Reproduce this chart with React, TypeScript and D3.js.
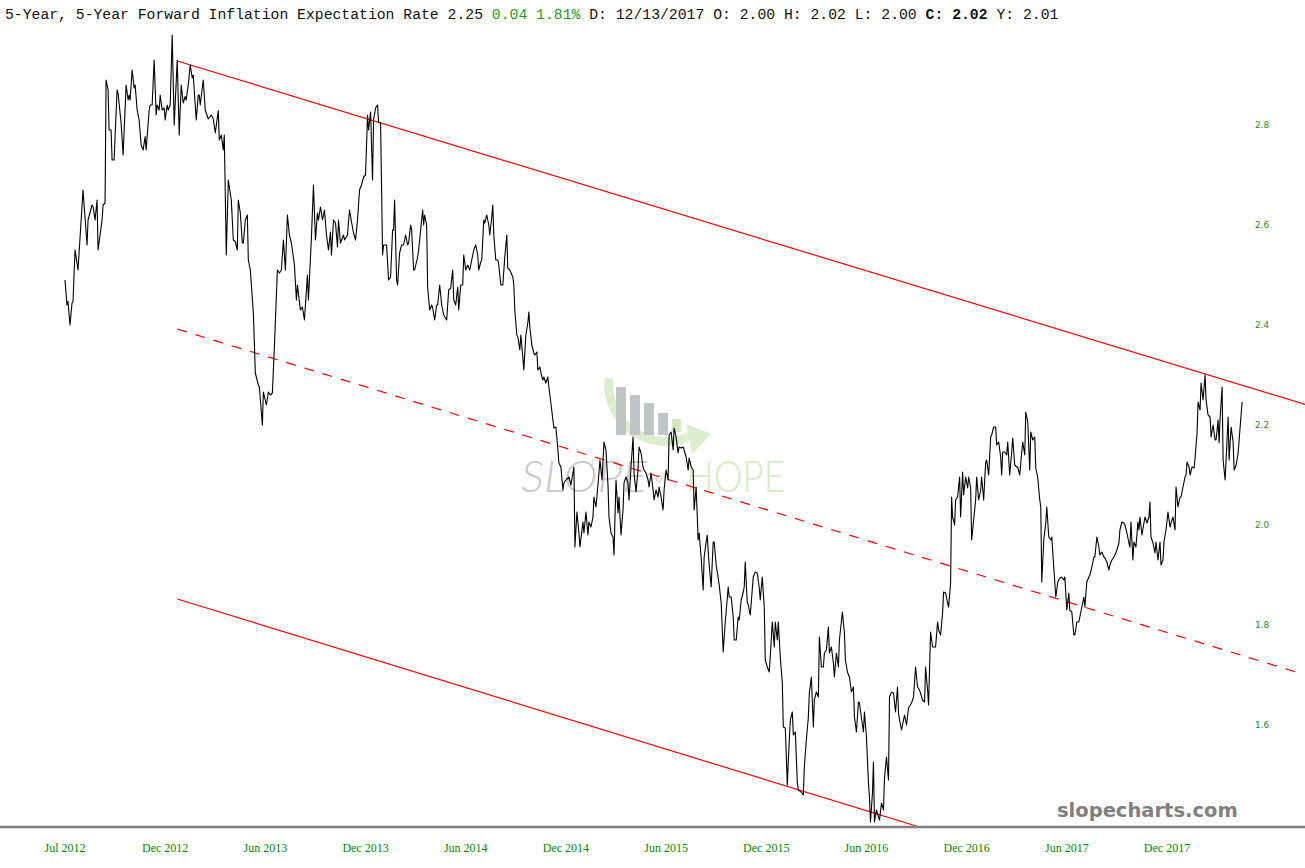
import React from "react";
import * as d3 from "d3";

// ---- Data ----
const xTickLabels = ["Jul 2012", "Dec 2012", "Jun 2013", "Dec 2013", "Jun 2014", "Dec 2014", "Jun 2015", "Dec 2015", "Jun 2016", "Dec 2016", "Jun 2017", "Dec 2017"];
const yTicks = [1.6, 1.8, 2.0, 2.2, 2.4, 2.6, 2.8];

// period position (1 unit = one label interval, 0 = Jul 2012)
const periods = [
  0.00,0.02,0.03,0.05,0.07,0.08,0.10,0.13,0.18,0.22,0.23,0.27,0.28,0.30,0.32,0.33,0.37,0.38,0.40,0.41,
  0.43,0.44,0.46,0.47,0.49,0.52,0.53,0.56,0.58,0.61,0.63,0.64,0.65,0.67,0.69,0.70,0.72,0.74,0.76,0.78,
  0.80,0.81,0.84,0.85,0.87,0.89,0.91,0.92,0.94,0.95,0.97,0.99,1.00,1.02,1.03,1.05,1.07,1.09,1.12,1.14,
  1.16,1.18,1.20,1.21,1.23,1.25,1.27,1.28,1.31,1.33,1.34,1.35,
  1.38,1.40,1.43,1.46,1.48,1.50,1.53,1.54,1.56,1.58,1.59,1.61,1.63,1.66,1.68,1.70,1.72,1.73,1.75,1.77,
  1.78,1.80,1.82,1.83,1.85,1.88,1.90,1.93,1.94,1.97,1.98,2.01,2.03,2.05,2.07,2.09,2.12,2.14,2.16,2.18,
  2.20,2.22,2.24,2.26,2.29,2.31,2.32,2.35,2.37,2.39,2.42,2.43,2.46,2.48,2.50,2.52,2.53,2.55,2.57,2.59,
  2.61,2.63,2.65,2.66,2.68,2.70,2.72,2.73,2.75,2.78,2.79,2.82,2.84,2.86,2.88,2.90,2.92,2.94,2.96,2.98,
  3.00,3.02,3.03,3.05,3.07,3.08,3.10,3.12,3.13,3.15,
  3.17,3.18,3.21,3.23,3.25,3.27,3.28,3.29,3.31,3.32,3.34,3.36,3.38,3.40,3.42,3.43,3.45,3.46,3.48,3.49,
  3.52,3.53,3.55,3.57,3.58,3.59,3.61,3.62,3.64,3.66,3.67,3.69,3.71,3.72,3.74,3.76,3.78,3.81,3.83,3.85,
  3.87,3.88,3.90,3.92,3.93,3.95,3.97,3.98,4.00,4.02,4.04,4.05,4.07,4.08,4.10,4.12,4.13,4.15,4.16,4.18,
  4.19,4.21,4.23,4.24,4.26,4.27,4.28,4.30,4.32,4.33,4.35,4.37,4.39,4.41,4.42,4.44,4.47,4.48,4.49,4.51,
  4.52,4.54,4.55,4.57,4.58,4.60,4.62,4.63,4.64,4.66,4.68,4.69,4.71,4.72,4.74,
  4.76,4.77,4.78,4.80,4.82,4.83,4.85,4.87,4.88,4.90,4.92,4.93,4.95,4.97,4.98,5.00,5.03,5.05,5.08,5.09,
  5.11,5.13,5.14,5.17,5.18,5.20,5.22,5.23,5.25,5.27,5.28,5.30,5.32,5.34,5.36,5.38,5.40,5.42,5.43,5.45,
  5.47,5.48,5.50,5.52,5.53,5.55,5.57,5.58,5.60,5.62,5.63,5.65,5.67,5.68,5.70,5.72,5.73,5.75,5.77,5.78,
  5.80,5.82,5.83,5.85,5.87,5.88,5.90,5.92,5.93,5.95,5.97,5.98,6.00,6.02,6.03,6.05,6.07,6.08,6.10,6.12,
  6.13,6.15,6.17,6.18,6.20,6.22,6.23,6.25,6.27,6.28,6.30,6.32,6.33,6.35,6.37,6.38,6.41,6.43,6.45,6.47,
  6.48,6.50,6.52,6.53,6.55,6.57,6.59,6.62,6.63,6.65,6.67,6.68,6.70,6.72,6.73,6.75,6.77,6.78,6.79,6.81,
  6.82,6.84,6.86,6.87,6.89,6.91,6.93,6.94,6.96,6.98,6.99,7.01,7.03,7.05,7.06,7.08,7.09,7.11,7.12,7.14,
  7.16,7.17,7.19,7.21,7.22,7.24,7.26,7.27,7.29,7.31,7.32,7.35,7.37,7.38,7.40,7.42,7.43,7.45,7.47,7.48,
  7.50,7.52,7.53,7.55,7.57,7.58,7.60,7.62,7.63,7.65,7.67,7.68,7.70,7.72,7.73,7.76,7.78,7.79,7.81,7.83,
  7.85,7.87,7.88,7.90,7.92,7.93,7.95,7.97,7.98,8.00,8.02,8.03,8.04,8.06,8.07,8.08,8.10,8.12,8.13,8.15,
  8.17,8.18,8.20,8.22,8.23,8.25,8.27,8.29,8.31,8.32,8.33,8.35,
  8.38,8.40,8.42,8.45,8.47,8.49,8.51,8.53,8.56,8.58,8.59,8.61,8.62,8.64,8.66,8.69,8.71,8.72,8.74,8.76,
  8.77,8.79,8.81,8.82,8.84,8.85,8.86,8.88,8.89,8.91,8.93,8.94,8.96,8.97,8.99,9.01,9.02,9.04,9.05,9.07,
  9.09,9.10,9.12,9.14,9.15,9.17,9.19,9.20,9.22,9.24,9.25,9.27,9.29,9.30,9.32,9.34,9.35,9.36,9.38,9.40,
  9.41,9.43,9.45,9.46,9.48,9.50,9.51,9.53,9.55,9.56,9.58,9.59,9.61,9.63,9.64,9.66,9.68,9.69,9.71,9.73,
  9.74,9.75,9.77,9.79,9.80,9.82,9.84,9.85,9.87,9.89,9.91,9.93,9.95,9.97,9.98,10.00,10.02,10.03,10.05,10.07,
  10.08,10.10,10.12,10.13,10.15,10.17,10.18,10.20,10.22,10.23,10.25,10.27,10.28,10.30,10.32,10.33,10.35,10.37,10.38,10.40,
  10.42,10.43,10.45,10.47,10.48,10.50,10.52,10.53,10.55,10.57,10.58,10.60,10.62,10.63,10.64,10.66,10.67,10.69,10.71,10.72,
  10.73,10.75,10.77,10.78,10.80,10.82,10.83,10.84,10.86,10.88,10.89,10.91,10.93,10.94,10.96,10.97,10.99,11.01,11.03,11.04,
  11.06,11.08,11.09,11.11,11.13,11.14,11.16,11.18,11.19,11.20,11.22,11.23,11.25,11.27,11.28,11.30,11.31,11.33,11.34,11.36,
  11.38,11.39,11.41,11.43,11.44,11.46,11.48,11.49,11.51,11.52,11.53,11.55,11.56,11.58,11.59,11.61,11.62,11.64,11.66,11.67,
  11.69,11.71,11.73,11.75
];

const rates = [
  2.490,2.440,2.447,2.400,2.444,2.447,2.550,2.510,2.670,2.560,2.610,2.640,2.637,2.610,2.650,2.550,2.610,2.640,2.644,2.890,
  2.870,2.790,2.790,2.730,2.730,2.870,2.863,2.804,2.740,2.880,2.850,2.860,2.850,2.910,2.874,2.880,2.830,2.810,2.760,2.750,
  2.777,2.750,2.830,2.840,2.840,2.930,2.820,2.840,2.830,2.860,2.830,2.834,2.810,2.840,2.830,2.840,2.980,2.800,2.930,2.780,
  2.880,2.844,2.857,2.850,2.880,2.920,2.894,2.900,2.810,2.860,2.860,2.840,
  2.890,2.830,2.812,2.820,2.812,2.784,2.829,2.770,2.780,2.750,2.780,2.540,2.690,2.650,2.570,2.567,2.550,2.650,2.624,2.564,
  2.564,2.610,2.620,2.530,2.510,2.424,2.304,2.280,2.276,2.200,2.266,2.240,2.266,2.260,2.264,2.356,2.510,2.504,2.510,2.570,
  2.510,2.620,2.580,2.564,2.520,2.450,2.480,2.430,2.436,2.410,2.500,2.450,2.576,2.680,2.570,2.624,2.610,2.636,2.610,2.630,
  2.580,2.550,2.586,2.540,2.610,2.604,2.556,2.610,2.564,2.580,2.570,2.580,2.630,2.606,2.584,2.570,2.610,2.670,2.680,2.696,
  2.700,2.820,2.790,2.826,2.690,2.810,2.834,2.840,2.806,2.804,
  2.540,2.560,2.560,2.490,2.496,2.590,2.590,2.650,2.490,2.480,2.544,2.560,2.560,2.580,2.560,2.564,2.600,2.590,2.510,2.510,
  2.536,2.550,2.590,2.630,2.600,2.620,2.600,2.476,2.430,2.440,2.434,2.410,2.440,2.440,2.480,2.440,2.420,2.410,2.470,2.474,
  2.510,2.450,2.440,2.476,2.430,2.480,2.480,2.540,2.510,2.520,2.510,2.520,2.540,2.550,2.560,2.540,2.510,2.526,2.530,2.610,
  2.604,2.620,2.600,2.580,2.616,2.640,2.580,2.530,2.530,2.520,2.480,2.480,2.536,2.580,2.514,2.510,2.496,2.480,2.430,2.380,
  2.376,2.350,2.380,2.336,2.310,2.380,2.404,2.426,2.396,2.360,2.344,2.340,2.346,2.310,2.316,
  2.296,2.290,2.296,2.284,2.296,2.276,2.244,2.210,2.194,2.196,2.150,2.124,2.116,2.070,2.084,2.090,2.096,2.080,2.116,1.956,
  2.026,1.984,1.956,2.006,1.984,2.026,1.980,2.006,1.996,2.016,2.056,2.036,2.080,2.130,2.090,2.166,2.150,2.080,2.016,1.984,
  1.976,1.940,2.090,2.024,2.056,1.980,2.030,2.084,2.096,2.084,2.050,2.116,2.176,2.104,2.066,2.110,2.156,2.144,2.116,2.110,
  2.104,2.090,2.076,2.104,2.070,2.050,2.070,2.056,2.076,2.056,2.030,2.070,2.110,2.090,2.180,2.186,2.150,2.194,2.176,2.144,
  2.156,2.154,2.156,2.150,2.136,2.110,2.134,2.116,2.110,2.030,2.076,1.970,1.984,1.936,1.870,1.936,1.980,1.920,1.876,1.966,
  1.966,1.920,1.894,1.880,1.844,1.746,1.804,1.876,1.856,1.856,1.816,1.770,1.770,1.816,1.810,1.850,1.866,1.876,1.926,1.846,
  1.840,1.820,1.870,1.896,1.906,1.904,1.874,1.850,1.896,1.836,1.730,1.716,1.706,1.770,1.806,1.756,1.806,1.770,1.806,1.736,
  1.684,1.596,1.594,1.480,1.530,1.610,1.626,1.580,1.586,1.484,1.470,1.466,1.460,1.516,1.570,1.616,1.664,1.696,1.596,1.650,
  1.666,1.656,1.776,1.716,1.716,1.744,1.750,1.796,1.744,1.756,1.724,1.696,1.744,1.716,1.770,1.826,1.784,1.730,1.706,1.696,
  1.666,1.676,1.616,1.586,1.646,1.644,1.614,1.586,1.626,1.576,1.484,1.456,1.406,1.464,1.526,1.406,1.430,1.416,1.410,1.444,
  1.430,1.494,1.536,1.490,1.656,1.666,1.664,1.626,1.676,1.624,1.610,1.590,
  1.620,1.600,1.634,1.644,1.656,1.716,1.676,1.670,1.650,1.646,1.716,1.670,1.640,1.786,1.756,1.756,1.806,1.790,1.780,1.824,
  1.866,1.864,1.844,1.836,1.884,2.056,2.016,2.000,2.050,2.056,2.096,2.016,2.106,2.060,2.096,2.074,2.096,2.074,1.970,2.010,
  2.050,2.096,2.050,2.070,2.096,2.050,2.126,2.130,2.100,2.176,2.180,2.196,2.196,2.160,2.166,2.136,2.100,2.146,2.146,2.140,
  2.166,2.100,2.146,2.174,2.120,2.116,2.116,2.100,2.146,2.166,2.140,2.226,2.206,2.110,2.186,2.170,2.176,2.114,2.094,2.050,
  2.036,1.886,1.970,2.004,2.036,1.976,1.970,1.976,1.914,1.856,1.886,1.894,1.896,1.890,1.896,1.830,1.864,1.830,1.826,1.780,
  1.780,1.806,1.806,1.816,1.836,1.856,1.836,1.886,1.896,1.900,1.916,1.936,1.936,1.976,1.956,1.940,1.946,1.936,1.934,1.926,
  1.910,1.920,1.930,1.936,1.940,1.950,1.964,1.990,2.006,2.004,2.000,1.984,1.964,1.956,2.006,1.930,1.966,1.956,2.006,1.990,
  2.016,1.980,2.004,2.016,2.004,2.016,2.046,1.976,1.964,1.944,1.966,1.930,1.966,1.920,1.930,1.966,1.990,2.026,1.996,2.004,
  2.016,1.990,2.076,2.036,2.056,2.056,2.076,2.096,2.100,2.126,2.116,2.100,2.116,2.114,2.134,2.184,2.246,2.230,2.284,2.250,
  2.300,2.250,2.220,2.216,2.176,2.200,2.170,2.170,2.210,2.164,2.214,2.276,2.130,2.090,2.130,2.216,2.130,2.196,2.166,2.110,
  2.120,2.144,2.196,2.246
];

// Channel lines [period, rate]
const channelUpper: [number, number][] = [[1.12, 2.928], [12.4, 2.24]];
const channelMiddle: [number, number][] = [[1.12, 2.392], [12.32, 1.704]];
const channelLower: [number, number][] = [[1.12, 1.852], [8.53, 1.396]];

const W = 1305;
const H = 868;

export default function App() {
  const x = d3.scaleLinear().domain([0, 11]).range([65, 1167]);
  const y = d3.scaleLinear().domain([1.6, 2.8]).range([725, 125]);

  const series = periods.map((p, i) => [p, rates[i]] as [number, number]);
  const line = d3.line<[number, number]>().x((d) => x(d[0])).y((d) => y(d[1]));

  const green = "#1f9a1f";

  return (
    <svg width={W} height={H} style={{ position: "absolute", left: 0, top: 0, background: "#fff" }}
      xmlns="http://www.w3.org/2000/svg">
      <defs>
        <clipPath id="plot">
          <rect x={0} y={28} width={W} height={799} />
        </clipPath>
      </defs>
      <rect x={0} y={0} width={W} height={H} fill="#fff" />

      {/* watermark */}
      <g>
        <path d="M 609 378 A 57 57 0 0 0 690 436" fill="none" stroke="#deedcf" strokeWidth={9} />
        <polygon points="686,424 711,434 692,454" fill="#deedcf" />
        <rect x={616} y={387} width={10} height={48} fill="#c2c5c6" />
        <rect x={630} y={395} width={10} height={40} fill="#c2c5c6" />
        <rect x={644} y={403} width={10} height={32} fill="#c2c5c6" />
        <rect x={658} y={413} width={10} height={22} fill="#c2c5c6" />
        <rect x={672} y={419} width={9} height={13} fill="#d3e6bf" />
        <text x={521} y={492} fontFamily="Lato, 'Open Sans', sans-serif" fontStyle="italic" fontWeight={300}
          fontSize={44} fill="#cacaca" textLength={126} lengthAdjust="spacingAndGlyphs">SLOPE</text>
        <text x={655} y={482} fontFamily="Lato, sans-serif" fontSize={14} fill="#d0d0d0">of</text>
        <text x={686} y={492} fontFamily="Lato, 'Open Sans', sans-serif" fontWeight={300}
          fontSize={44} fill="#d8eac6" textLength={99} lengthAdjust="spacingAndGlyphs">HOPE</text>
      </g>

      <g clipPath="url(#plot)">
        <path d={line(channelUpper) || ""} fill="none" stroke="#ff0000" strokeWidth={1.2} />
        <path d={line(channelMiddle) || ""} fill="none" stroke="#ff0000" strokeWidth={1.2} strokeDasharray="10,9" />
        <path d={line(channelLower) || ""} fill="none" stroke="#ff0000" strokeWidth={1.2} />
        <path d={line(series) || ""} fill="none" stroke="#000" strokeWidth={1.1} strokeLinejoin="round" />
      </g>

      {/* axis base line */}
      <line x1={0} x2={W} y1={827} y2={827} stroke="#808080" strokeWidth={2.5} />

      {/* x labels */}
      {xTickLabels.map((lab, i) => (
        <text key={lab} x={x(i)} y={852} textAnchor="middle" fontFamily="'Liberation Serif', 'Times New Roman', serif"
          fontSize={12} fill="#008a00">{lab}</text>
      ))}

      {/* y labels */}
      {yTicks.map((v) => (
        <text key={v} x={1255} y={y(v)} dy="0.35em" fontFamily="'DejaVu Sans', Verdana, sans-serif"
          fontSize={8.8} fill="#2a8a2a">{v.toFixed(1)}</text>
      ))}

      {/* title */}
      <text x={5} y={19} fontFamily="'Liberation Mono', 'DejaVu Sans Mono', monospace" fontSize={14.75} fill="#111">
        <tspan>5-Year, 5-Year Forward Inflation Expectation Rate 2.25 </tspan>
        <tspan fill={green}>0.04 1.81%</tspan>
        <tspan> D: 12/13/2017 O: 2.00 H: 2.02 L: 2.00 </tspan>
        <tspan fontWeight="bold">C: 2.02</tspan>
        <tspan> Y: 2.01</tspan>
      </text>

      {/* brand */}
      <text x={1057} y={817} fontFamily="'DejaVu Sans', Verdana, sans-serif" fontWeight="bold" fontSize={19.5}
        fill="#808080">slopecharts.com</text>
    </svg>
  );
}
